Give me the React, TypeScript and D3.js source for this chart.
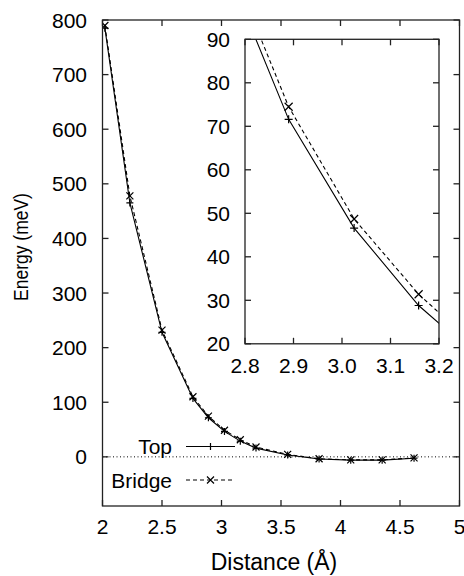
import React, { useRef, useEffect } from "react";
import * as d3 from "d3";

// distances (Å) of the computed points
const distance = [2.02, 2.23, 2.5, 2.76, 2.89, 3.025, 3.158, 3.29, 3.556, 3.82, 4.086, 4.35, 4.618];
// energies (meV)
const topEnergy = [785, 465, 228, 107, 71.6, 46.6, 28.8, 16, 3.5, -4, -6, -6, -2.5];
const bridgeEnergy = [790, 478, 232, 110, 74.5, 48.7, 31.4, 18, 4.5, -3.5, -5.5, -5.5, -2];

const xTicks = [2, 2.5, 3, 3.5, 4, 4.5, 5];
const yTicks = [0, 100, 200, 300, 400, 500, 600, 700, 800];
const insetXTicks = [2.8, 2.9, 3.0, 3.1, 3.2];
const insetYTicks = [20, 30, 40, 50, 60, 70, 80, 90];

const FONT = "'Liberation Sans', Arial, Helvetica, sans-serif";

function App() {
  const svgRef = useRef<SVGSVGElement>(null);

  useEffect(() => {
    const svg = d3.select(svgRef.current);
    svg.selectAll("*").remove();

    const x = d3.scaleLinear().domain([2, 5]).range([102.5, 459.5]);
    const y = d3.scaleLinear().domain([-90, 800]).range([506, 20]);

    const xi = d3.scaleLinear().domain([2.8, 3.2]).range([245, 439]);
    const yi = d3.scaleLinear().domain([20, 90]).range([343.8, 39.3]);

    const tickLen = 6;
    const pts = distance.map((d, i) => ({ d, top: topEnergy[i], bridge: bridgeEnergy[i] }));

    const defs = svg.append("defs");
    defs.append("clipPath").attr("id", "clipMain")
      .append("rect").attr("x", x(2)).attr("y", y(800))
      .attr("width", x(5) - x(2)).attr("height", y(-90) - y(800));
    defs.append("clipPath").attr("id", "clipInset")
      .append("rect").attr("x", xi(2.8)).attr("y", yi(90))
      .attr("width", xi(3.2) - xi(2.8)).attr("height", yi(20) - yi(90));

    // draws a plus or cross marker
    function marker(g: any, cx: number, cy: number, kind: string, s = 3.5) {
      if (kind === "plus") {
        g.append("path").attr("d", `M${cx - s},${cy}H${cx + s}M${cx},${cy - s}V${cy + s}`)
          .attr("stroke", "#000").attr("stroke-width", 1.2);
      } else {
        g.append("path").attr("d", `M${cx - s},${cy - s}L${cx + s},${cy + s}M${cx - s},${cy + s}L${cx + s},${cy - s}`)
          .attr("stroke", "#000").attr("stroke-width", 1.2);
      }
    }

    function frameAndTicks(sx: any, sy: any, xt: number[], yt: number[]) {
      const [x0, x1] = sx.range();
      const [y0, y1] = sy.range();
      const g = svg.append("g").attr("stroke", "#222").attr("stroke-width", 1.3);
      g.append("rect").attr("x", x0).attr("y", y1).attr("width", x1 - x0).attr("height", y0 - y1)
        .attr("fill", "none");
      xt.forEach((t) => {
        const px = sx(t);
        g.append("line").attr("x1", px).attr("x2", px).attr("y1", y0).attr("y2", y0 - tickLen);
        g.append("line").attr("x1", px).attr("x2", px).attr("y1", y1).attr("y2", y1 + tickLen);
      });
      yt.forEach((t) => {
        const py = sy(t);
        g.append("line").attr("x1", x0).attr("x2", x0 + tickLen).attr("y1", py).attr("y2", py);
        g.append("line").attr("x1", x1).attr("x2", x1 - tickLen).attr("y1", py).attr("y2", py);
      });
    }

    // ---- main plot ----
    svg.append("line")
      .attr("x1", x(2)).attr("x2", x(5)).attr("y1", y(0)).attr("y2", y(0))
      .attr("stroke", "#000").attr("stroke-width", 1).attr("stroke-dasharray", "1,2.5");

    const main = svg.append("g").attr("clip-path", "url(#clipMain)");
    const lineTop = d3.line<any>().x((p) => x(p.d)).y((p) => y(p.top));
    const lineBridge = d3.line<any>().x((p) => x(p.d)).y((p) => y(p.bridge));
    main.append("path").attr("d", lineTop(pts)).attr("fill", "none")
      .attr("stroke", "#000").attr("stroke-width", 1.1);
    main.append("path").attr("d", lineBridge(pts)).attr("fill", "none")
      .attr("stroke", "#000").attr("stroke-width", 1.1).attr("stroke-dasharray", "4,3");
    pts.forEach((p) => {
      marker(main, x(p.d), y(p.top), "plus");
      marker(main, x(p.d), y(p.bridge), "cross");
    });

    frameAndTicks(x, y, xTicks, yTicks);

    const labels = svg.append("g").attr("font-family", FONT).attr("fill", "#000");
    xTicks.forEach((t) => {
      labels.append("text").attr("x", x(t)).attr("y", 534).attr("text-anchor", "middle")
        .attr("font-size", 21).text(String(t));
    });
    yTicks.forEach((t) => {
      labels.append("text").attr("x", 87).attr("y", y(t) + 7.5).attr("text-anchor", "end")
        .attr("font-size", 21).text(String(t));
    });
    labels.append("text").attr("x", 274).attr("y", 570).attr("text-anchor", "middle")
      .attr("font-size", 23).text("Distance (Å)");
    labels.append("text")
      .attr("transform", "translate(28,247) scale(1.15,1) rotate(-90)")
      .attr("text-anchor", "middle").attr("font-size", 17.5).text("Energy (meV)");

    // legend
    const leg = svg.append("g");
    leg.append("text").attr("x", 172).attr("y", 454).attr("text-anchor", "end")
      .attr("font-family", FONT).attr("font-size", 21).text("Top");
    leg.append("line").attr("x1", 186).attr("x2", 235).attr("y1", 446.5).attr("y2", 446.5)
      .attr("stroke", "#000").attr("stroke-width", 1.1);
    marker(leg, 210.5, 446.5, "plus");
    leg.append("text").attr("x", 172).attr("y", 487.5).attr("text-anchor", "end")
      .attr("font-family", FONT).attr("font-size", 21).text("Bridge");
    leg.append("line").attr("x1", 186).attr("x2", 235).attr("y1", 480).attr("y2", 480)
      .attr("stroke", "#000").attr("stroke-width", 1.1).attr("stroke-dasharray", "4,3");
    marker(leg, 210.5, 480, "cross");

    // ---- inset ----
    svg.append("rect").attr("x", xi(2.8)).attr("y", yi(90))
      .attr("width", xi(3.2) - xi(2.8)).attr("height", yi(20) - yi(90)).attr("fill", "#fff");

    const inset = svg.append("g").attr("clip-path", "url(#clipInset)");
    const iTop = d3.line<any>().x((p) => xi(p.d)).y((p) => yi(p.top));
    const iBridge = d3.line<any>().x((p) => xi(p.d)).y((p) => yi(p.bridge));
    inset.append("path").attr("d", iTop(pts)).attr("fill", "none")
      .attr("stroke", "#000").attr("stroke-width", 1.1);
    inset.append("path").attr("d", iBridge(pts)).attr("fill", "none")
      .attr("stroke", "#000").attr("stroke-width", 1.1).attr("stroke-dasharray", "4,3");
    pts.forEach((p) => {
      marker(inset, xi(p.d), yi(p.top), "plus", 4);
      marker(inset, xi(p.d), yi(p.bridge), "cross", 4);
    });

    frameAndTicks(xi, yi, insetXTicks, insetYTicks);

    insetXTicks.forEach((t) => {
      labels.append("text").attr("x", xi(t)).attr("y", 373).attr("text-anchor", "middle")
        .attr("font-size", 21).text(t.toFixed(1));
    });
    insetYTicks.forEach((t) => {
      labels.append("text").attr("x", 230).attr("y", yi(t) + 7.5).attr("text-anchor", "end")
        .attr("font-size", 21).text(String(t));
    });
    labels.append("text").attr("x", 276).attr("y", 73.5).attr("font-size", 26)
      .text("HeCu(111)");
  }, []);

  return (
    <svg
      ref={svgRef}
      width={464}
      height={576}
      style={{ position: "absolute", left: 0, top: 0, background: "#fff" }}
    />
  );
}

export default App;
